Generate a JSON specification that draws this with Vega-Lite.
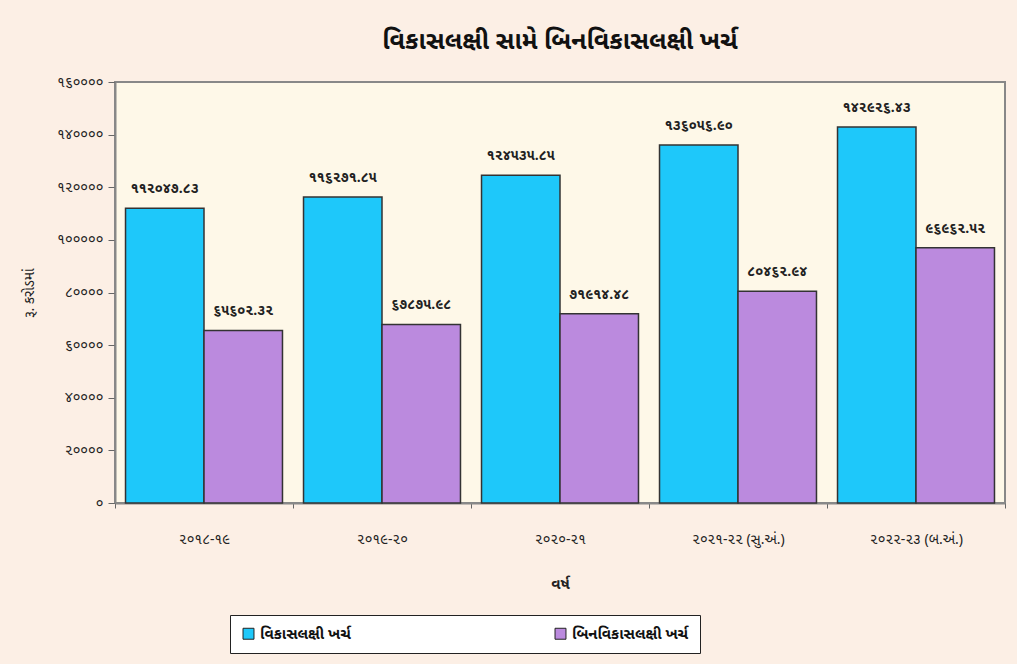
{
  "$schema": "https://vega.github.io/schema/vega-lite/v6.json",
  "autosize": "none",
  "width": 890,
  "height": 421,
  "padding": {"left": 115, "top": 82, "right": 12, "bottom": 161},
  "background": "#FCEFE5",
  "title": {
    "text": "વિકાસલક્ષી સામે બિનવિકાસલક્ષી ખર્ચ",
    "fontSize": 25,
    "fontWeight": "bold",
    "color": "#111111",
    "anchor": "middle",
    "offset": 21,
    "font": "Noto Sans Gujarati, Noto Sans, sans-serif"
  },
  "config": {
    "font": "Noto Sans Gujarati, Noto Sans, sans-serif",
    "view": {"fill": "#FEF8E8", "stroke": "#888888", "strokeWidth": 2},
    "axis": {"labelFontSize": 14, "labelColor": "#222222", "titleFontSize": 15, "titleColor": "#222222", "titleFontWeight": "bold", "domainColor": "#888888", "domainWidth": 2, "tickColor": "#666666", "grid": false}
  },
  "data": {
    "values": [
      {"year": "૨૦૧૮-૧૯", "series": "વિકાસલક્ષી ખર્ચ", "value": 112047.83, "label": "૧૧૨૦૪૭.૮૩"},
      {"year": "૨૦૧૮-૧૯", "series": "બિનવિકાસલક્ષી ખર્ચ", "value": 65602.32, "label": "૬૫૬૦૨.૩૨"},
      {"year": "૨૦૧૯-૨૦", "series": "વિકાસલક્ષી ખર્ચ", "value": 116271.85, "label": "૧૧૬૨૭૧.૮૫"},
      {"year": "૨૦૧૯-૨૦", "series": "બિનવિકાસલક્ષી ખર્ચ", "value": 67875.98, "label": "૬૭૮૭૫.૯૮"},
      {"year": "૨૦૨૦-૨૧", "series": "વિકાસલક્ષી ખર્ચ", "value": 124535.85, "label": "૧૨૪૫૩૫.૮૫"},
      {"year": "૨૦૨૦-૨૧", "series": "બિનવિકાસલક્ષી ખર્ચ", "value": 71914.48, "label": "૭૧૯૧૪.૪૮"},
      {"year": "૨૦૨૧-૨૨ (સુ.અં.)", "series": "વિકાસલક્ષી ખર્ચ", "value": 136056.90, "label": "૧૩૬૦૫૬.૯૦"},
      {"year": "૨૦૨૧-૨૨ (સુ.અં.)", "series": "બિનવિકાસલક્ષી ખર્ચ", "value": 80462.94, "label": "૮૦૪૬૨.૯૪"},
      {"year": "૨૦૨૨-૨૩ (બ.અં.)", "series": "વિકાસલક્ષી ખર્ચ", "value": 142926.43, "label": "૧૪૨૯૨૬.૪૩"},
      {"year": "૨૦૨૨-૨૩ (બ.અં.)", "series": "બિનવિકાસલક્ષી ખર્ચ", "value": 96962.52, "label": "૯૬૯૬૨.૫૨"}
    ]
  },
  "encoding": {
    "x": {
      "field": "year", "type": "nominal", "sort": null,
      "scale": {"paddingInner": 0, "paddingOuter": 0},
      "axis": {"title": "વર્ષ", "labelAngle": 0, "tickBand": "extent", "labelPadding": 24, "titlePadding": 30, "tickSize": 5, "titleFontSize": 15}
    },
    "xOffset": {
      "field": "series", "type": "nominal", "sort": ["વિકાસલક્ષી ખર્ચ", "બિનવિકાસલક્ષી ખર્ચ"],
      "scale": {"paddingInner": 0, "paddingOuter": 0.134}
    },
    "y": {
      "field": "value", "type": "quantitative",
      "scale": {"domain": [0, 160000]},
      "axis": {
        "title": "રૂ. કરોડમાં",
        "values": [0, 20000, 40000, 60000, 80000, 100000, 120000, 140000, 160000],
        "labelExpr": "datum.value == 0 ? '૦' : datum.value == 20000 ? '૨૦૦૦૦' : datum.value == 40000 ? '૪૦૦૦૦' : datum.value == 60000 ? '૬૦૦૦૦' : datum.value == 80000 ? '૮૦૦૦૦' : datum.value == 100000 ? '૧૦૦૦૦૦' : datum.value == 120000 ? '૧૨૦૦૦૦' : datum.value == 140000 ? '૧૪૦૦૦૦' : '૧૬૦૦૦૦'",
        "tickSize": 7,
        "labelPadding": 5,
        "titlePadding": 20,
        "titleFontWeight": "normal",
        "titleFontSize": 14
      }
    }
  },
  "layer": [
    {
      "mark": {"type": "bar", "stroke": "#333333", "strokeWidth": 1.5},
      "encoding": {
        "color": {
          "field": "series", "type": "nominal", "sort": ["વિકાસલક્ષી ખર્ચ", "બિનવિકાસલક્ષી ખર્ચ"],
          "scale": {"range": ["#1EC8FA", "#BB8ADE"]},
          "legend": {
            "title": null,
            "orient": "none",
            "legendX": 115,
            "legendY": 533,
            "direction": "horizontal",
            "symbolType": "square",
            "symbolSize": 120,
            "symbolStrokeColor": "#222222",
            "symbolStrokeWidth": 1,
            "labelFontSize": 15,
            "labelFontWeight": "bold",
            "labelColor": "#111111",
            "columnPadding": 202,
            "padding": 11,
            "fillColor": "#FFFFFF",
            "strokeColor": "#222222"
          }
        }
      }
    },
    {
      "mark": {"type": "text", "baseline": "bottom", "dy": -12, "fontSize": 14, "fontWeight": "bold", "color": "#222222"},
      "encoding": {"text": {"field": "label"}}
    }
  ]
}
